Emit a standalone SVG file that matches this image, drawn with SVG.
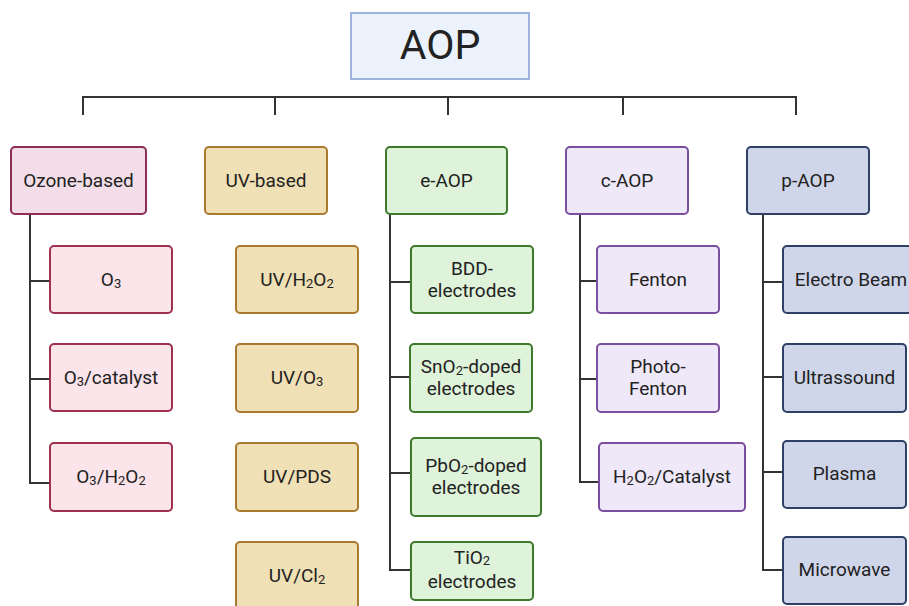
<svg xmlns="http://www.w3.org/2000/svg" width="909" height="606" viewBox="0 0 909 606">
<style>
text{font-family:Roboto,"Liberation Sans",sans-serif;font-size:19px;fill:#222;text-anchor:middle;dominant-baseline:central}
.t{font-size:41px}
.s{font-size:13px}
.c{fill:none;stroke:#333;stroke-width:2}
.root{fill:#ecf2fb;stroke:#9fb4de;stroke-width:2}
.ozh{fill:#f3dde8;stroke:#8c2d55;stroke-width:2}
.oz{fill:#fbe4ea;stroke:#a0304f;stroke-width:2}
.uv{fill:#f0e0b5;stroke:#a8792f;stroke-width:2}
.e{fill:#dff2da;stroke:#3e7a2e;stroke-width:2}
.ca{fill:#efe8f8;stroke:#7b4fa0;stroke-width:2}
.p{fill:#d0d6ea;stroke:#2f3f66;stroke-width:2}
</style>
<g id="connectors">
<path class="c" d="M83,115V97H796V115M275,97V115M448,97V115M623,97V115"/>
<path class="c" d="M30,214V483H50M30,281H50M30,379H50"/>
<path class="c" d="M390,214V570H411M390,282H411M390,377H410M390,473H411"/>
<path class="c" d="M580,214V482H599M580,281H597M580,379H597"/>
<path class="c" d="M763,214V570H783M763,282H783M763,377H783M763,472H783"/>
</g>
<g id="aop"><rect class="root" x="351" y="13" width="178" height="66"/><text class="t" x="440" y="45">AOP</text></g>
<g id="ozone"><rect class="ozh" x="11" y="147" width="135" height="67" rx="4"/><text x="78.5" y="180">Ozone-based</text></g>
<g id="o3"><rect class="oz" x="50" y="246" width="122" height="67" rx="4"/><text x="111" y="279">O<tspan class="s" dy="4">3</tspan></text></g>
<g id="o3cat"><rect class="oz" x="50" y="344" width="122" height="67" rx="4"/><text x="111" y="377">O<tspan class="s" dy="4">3</tspan><tspan dy="-4">/catalyst</tspan></text></g>
<g id="o3h2o2"><rect class="oz" x="50" y="443" width="122" height="68" rx="4"/><text x="111" y="476">O<tspan class="s" dy="4">3</tspan><tspan dy="-4">/H</tspan><tspan class="s" dy="4">2</tspan><tspan dy="-4">O</tspan><tspan class="s" dy="4">2</tspan></text></g>
<g id="uvbased"><rect class="uv" x="205" y="147" width="122" height="67" rx="4"/><text x="266" y="180">UV-based</text></g>
<g id="uvh2o2"><rect class="uv" x="236" y="246" width="122" height="67" rx="4"/><text x="297" y="279">UV/H<tspan class="s" dy="4">2</tspan><tspan dy="-4">O</tspan><tspan class="s" dy="4">2</tspan></text></g>
<g id="uvo3"><rect class="uv" x="236" y="344" width="122" height="68" rx="4"/><text x="297" y="377">UV/O<tspan class="s" dy="4">3</tspan></text></g>
<g id="uvpds"><rect class="uv" x="236" y="443" width="122" height="68" rx="4"/><text x="297" y="476">UV/PDS</text></g>
<g id="uvcl2"><rect class="uv" x="236" y="542" width="122" height="80" rx="4"/><text x="297" y="575">UV/Cl<tspan class="s" dy="4">2</tspan></text></g>
<g id="eaop"><rect class="e" x="386" y="147" width="121" height="67" rx="4"/><text x="446.5" y="180">e-AOP</text></g>
<g id="bdd"><rect class="e" x="411" y="246" width="122" height="67" rx="4"/><text x="472" y="268">BDD-</text><text x="472" y="290">electrodes</text></g>
<g id="sno2"><rect class="e" x="410" y="344" width="122" height="68" rx="4"/><text x="471" y="366">SnO<tspan class="s" dy="4">2</tspan><tspan dy="-4">-doped</tspan></text><text x="471" y="388">electrodes</text></g>
<g id="pbo2"><rect class="e" x="411" y="438" width="130" height="78" rx="4"/><text x="476" y="465">PbO<tspan class="s" dy="4">2</tspan><tspan dy="-4">-doped</tspan></text><text x="476" y="487">electrodes</text></g>
<g id="tio2"><rect class="e" x="411" y="542" width="122" height="58" rx="4"/><text x="472" y="557">TiO<tspan class="s" dy="3">2</tspan></text><text x="472" y="581">electrodes</text></g>
<g id="caop"><rect class="ca" x="566" y="147" width="122" height="67" rx="4"/><text x="627" y="180">c-AOP</text></g>
<g id="fenton"><rect class="ca" x="597" y="246" width="122" height="67" rx="4"/><text x="658" y="279">Fenton</text></g>
<g id="photofenton"><rect class="ca" x="597" y="344" width="122" height="68" rx="4"/><text x="658" y="366">Photo-</text><text x="658" y="388">Fenton</text></g>
<g id="h2o2cat"><rect class="ca" x="599" y="443" width="146" height="68" rx="4"/><text x="672" y="476">H<tspan class="s" dy="4">2</tspan><tspan dy="-4">O</tspan><tspan class="s" dy="4">2</tspan><tspan dy="-4">/Catalyst</tspan></text></g>
<g id="paop"><rect class="p" x="747" y="147" width="122" height="67" rx="4"/><text x="808" y="180">p-AOP</text></g>
<g id="ebeam"><rect class="p" x="783" y="246" width="140" height="67" rx="4"/><text x="851" y="279">Electro Beam</text></g>
<g id="ultra"><rect class="p" x="783" y="344" width="123" height="68" rx="4"/><text x="844.5" y="377">Ultrassound</text></g>
<g id="plasma"><rect class="p" x="783" y="441" width="123" height="67" rx="4"/><text x="844.5" y="473">Plasma</text></g>
<g id="micro"><rect class="p" x="783" y="537" width="123" height="67" rx="4"/><text x="844.5" y="569">Microwave</text></g>
</svg>
